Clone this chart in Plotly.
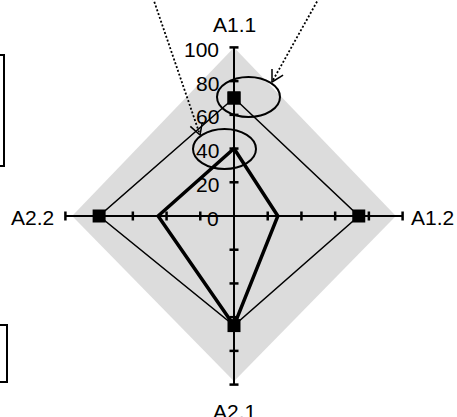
import numpy as np
import plotly.graph_objects as go

# radar axes (clockwise from the top) and their values
axis_names = ["A1.1", "A1.2", "A2.1", "A2.2"]
axis_angles = [90, 0, 270, 180]
band_extent = [100, 96, 98, 96]          # grey background band
series_outer = [70, 74, 65, 80]          # thin line, square markers
series_inner = [40, 26, 65, 45]          # thick line
tick_values = [0, 20, 40, 60, 80, 100]
tick_labels = ["0", "20", "40", "60", "80", "100"]

W, H = 457, 417
CX, CY = 234, 216      # pixel position of the centre
K = 1.686              # pixels per unit


def px2x(px):
    return (px - CX) / K


def px2y(py):
    return (CY - py) / K


def polar_xy(values):
    a = np.radians(axis_angles)
    v = np.asarray(values, dtype=float)
    x = v * np.cos(a)
    y = v * np.sin(a)
    return list(np.round(x, 6)) + [round(x[0], 6)], list(np.round(y, 6)) + [round(y[0], 6)]


FONT = "Liberation Sans, Arial, sans-serif"
fig = go.Figure()

# grey band
bx, by = polar_xy(band_extent)
fig.add_trace(go.Scatter(x=bx, y=by, mode="lines", fill="toself", fillcolor="#dcdcdc",
                         line=dict(width=0), hoverinfo="skip", showlegend=False))

# axes and tick marks
ax_x, ax_y, tk_x, tk_y = [], [], [], []
half = 4.5 / K
for ang in axis_angles:
    c, s = round(np.cos(np.radians(ang))), round(np.sin(np.radians(ang)))
    ax_x += [0, 100 * c, None]
    ax_y += [0, 100 * s, None]
    for t in tick_values[1:]:
        px, py = t * c, t * s
        nx, ny = -s, c
        tk_x += [px - half * nx, px + half * nx, None]
        tk_y += [py - half * ny, py + half * ny, None]
fig.add_trace(go.Scatter(x=ax_x, y=ax_y, mode="lines", line=dict(color="black", width=2),
                         hoverinfo="skip", showlegend=False))
fig.add_trace(go.Scatter(x=tk_x, y=tk_y, mode="lines", line=dict(color="black", width=2.5),
                         hoverinfo="skip", showlegend=False))

# series
ox, oy = polar_xy(series_outer)
fig.add_trace(go.Scatter(x=ox, y=oy, mode="lines+markers",
                         line=dict(color="black", width=1.5),
                         marker=dict(symbol="square", size=13, color="black"),
                         hoverinfo="skip", showlegend=False))
ix, iy = polar_xy(series_inner)
fig.add_trace(go.Scatter(x=ix, y=iy, mode="lines", line=dict(color="black", width=3.5),
                         hoverinfo="skip", showlegend=False))

# tick labels on the top axis
for v, lab in zip(tick_values, tick_labels):
    fig.add_annotation(x=px2x(221), y=v, text=lab, showarrow=False, xanchor="right",
                       yanchor="middle", yshift=-2, font=dict(family=FONT, size=21, color="black"))

# axis names
name_pos = [(234, 24, "center"), (409, 217, "left"), (234, 411, "center"), (56, 217, "right")]
for name, (px, py, anchor) in zip(axis_names, name_pos):
    fig.add_annotation(x=px2x(px), y=px2y(py), text=name, showarrow=False, xanchor=anchor,
                       yanchor="middle", font=dict(family=FONT, size=21, color="black"))

# callout ellipses
for cx, cy in [(248.5, 97), (224.5, 149)]:
    fig.add_shape(type="circle", x0=px2x(cx - 31.5), x1=px2x(cx + 31.5),
                  y0=px2y(cy + 20), y1=px2y(cy - 20), line=dict(color="black", width=2))

# dotted pointers with open arrowheads
for (x0, y0), (x1, y1) in [((153, -2), (200, 135)), ((319, -2), (272, 82))]:
    fig.add_shape(type="line", x0=px2x(x0), y0=px2y(y0), x1=px2x(x1), y1=px2y(y1),
                  line=dict(color="black", width=1.8, dash="2px,2px"))
    back = np.arctan2(y0 - y1, x0 - x1)
    for d in (-0.51, 0.51):
        hx = x1 + 13 * np.cos(back + d)
        hy = y1 + 13 * np.sin(back + d)
        fig.add_shape(type="line", x0=px2x(x1), y0=px2y(y1), x1=px2x(hx), y1=px2y(hy),
                      line=dict(color="black", width=1.5))

# legend boxes cut off at the left edge
for x1, y0, y1 in [(4, 55, 166), (7, 325, 382)]:
    fig.add_shape(type="rect", x0=px2x(-40), x1=px2x(x1), y0=px2y(y1), y1=px2y(y0),
                  line=dict(color="black", width=2))

fig.update_layout(
    width=W, height=H, margin=dict(l=0, r=0, t=0, b=0),
    paper_bgcolor="white", plot_bgcolor="white",
    xaxis=dict(range=[px2x(0), px2x(W)], visible=False, fixedrange=True),
    yaxis=dict(range=[px2y(H), px2y(0)], visible=False, fixedrange=True),
    showlegend=False,
)
# drop the default 8px page margin so the figure sits at the window's corner
fig.write_html("out.html", config={"displayModeBar": False},
               post_script="document.body.style.margin='0';document.body.style.overflow='hidden';")
